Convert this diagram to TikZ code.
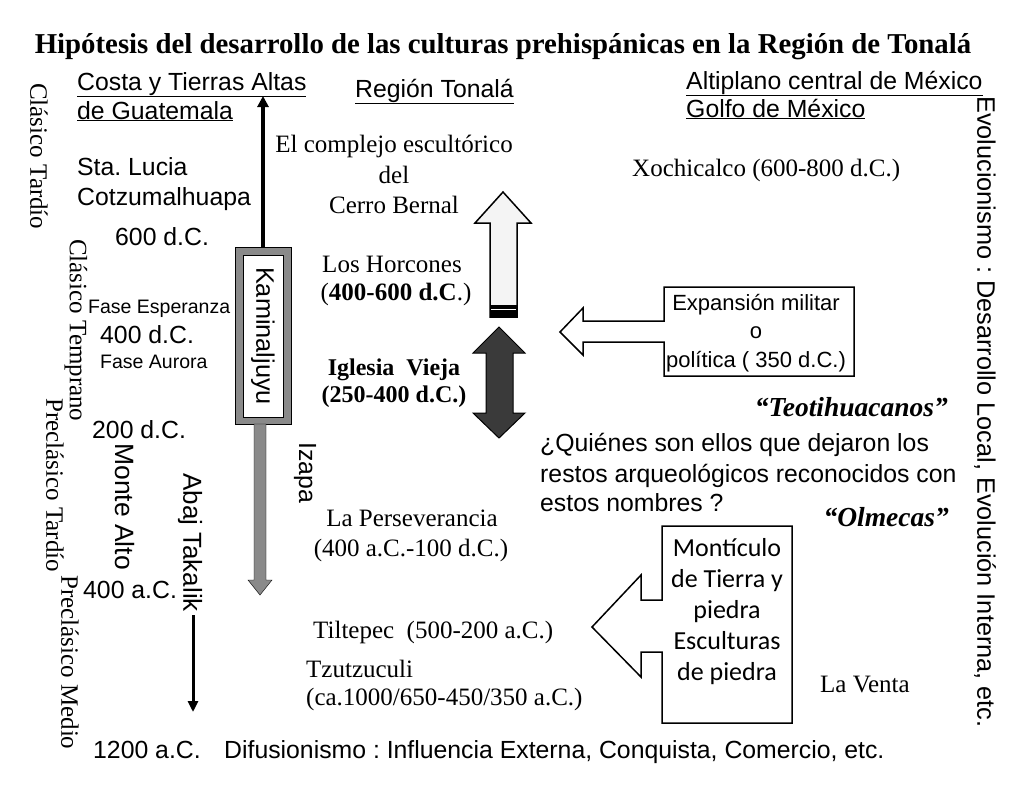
\documentclass[tikz,border=0pt]{standalone}
\usepackage{fontspec}
\setmainfont{Liberation Serif}
\setsansfont{Liberation Sans}
\newfontfamily\calibri{Carlito}
\usetikzlibrary{arrows.meta}
\definecolor{frame}{HTML}{8A8A8A}
\definecolor{darkarrow}{HTML}{3A3A3A}
\definecolor{pale}{HTML}{F4F4F4}
\frenchspacing

\begin{document}
\begin{tikzpicture}[x=1pt,y=-1pt,
  every node/.style={inner sep=0pt},
  serif/.style={font=\fontsize{25}{30}\selectfont},
  bold/.style={font=\bfseries\fontsize{24}{29}\selectfont},
  sans/.style={font=\sffamily\fontsize{24.8}{30}\selectfont},
  small/.style={font=\sffamily\fontsize{19.5}{23}\selectfont},
  boxtext/.style={font=\sffamily\fontsize{22}{28}\selectfont},
  culture/.style={font=\bfseries\itshape\fontsize{27.5}{32}\selectfont,anchor=base east},
  vert/.style={rotate=-90,anchor=west}]
  \useasboundingbox[fill=white] (0,0) rectangle (1024,793);

  % Title
  \node[font=\bfseries\fontsize{28.8}{34}\selectfont,anchor=base] (title) at (503,53)
    {Hipótesis del desarrollo de las culturas prehispánicas en la Región de Tonalá};

  % Column headers
  \node[sans,anchor=base west] (costa) at (77,90) {\underline{Costa y Tierras Altas}};
  \node[sans,anchor=base west] (guate) at (77,119) {\underline{de Guatemala}};
  \node[sans,anchor=base west] (tonala) at (355,97) {\underline{Región Tonalá}};
  \node[sans,anchor=base west] (altip) at (686,89) {\underline{Altiplano central de México}};
  \node[sans,anchor=base west] (golfo) at (686,117) {\underline{Golfo de México}};

  % Periods
  \node[serif,vert] (ctardio) at (39,83) {Clásico Tardío};
  \node[serif,vert] (ctemp) at (76,239) {Clásico Temprano};
  \node[serif,vert] (ptardio) at (55,398) {Preclásico Tardío};
  \node[serif,vert] (pmedio) at (70,575) {Preclásico Medio};

  % Guatemala side
  \node[sans,anchor=base west] (lucia) at (77,175) {Sta. Lucia};
  \node[sans,anchor=base west] (cotz) at (77,205) {Cotzumalhuapa};
  \node[sans,anchor=base west] (d600) at (115,245) {600 d.C.};
  \node[small,anchor=base west] (esper) at (88,313) {Fase Esperanza};
  \node[sans,anchor=base west] (d400) at (100,343) {400 d.C.};
  \node[small,anchor=base west] (aurora) at (100,368) {Fase Aurora};
  \node[sans,anchor=base west] (d200) at (92,438) {200 d.C.};
  \node[sans,font=\sffamily\fontsize{26.5}{31}\selectfont,vert] (monte) at (125,443) {Monte Alto};
  \node[sans,anchor=base west] (a400) at (83,598) {400 a.C.};
  \node[sans,font=\sffamily\fontsize{26}{30}\selectfont,vert] (abaj) at (190,473) {Abaj Takalik};
  \node[sans,anchor=base west] (a1200) at (93,758) {1200 a.C.};
  \node[sans,vert] (izapa) at (305,442) {Izapa};

  % Kaminaljuyu
  \draw[fill=frame] (235,247) rectangle (291,424);
  \node[sans,font=\sffamily\fontsize{25.3}{30}\selectfont,rotate=-90,draw,fill=white,minimum width=162pt,minimum height=40pt] (kamin) at (263,336) {Kaminaljuyu};
  \coordinate (ktop) at (263,247);
  \coordinate (kup) at (263,96);
  \draw[line width=4pt,-{Triangle[length=11pt,width=11pt]}] (ktop) -- (kup);
  \draw[fill=frame] (254,424) -- (254,580) -- (248,580) -- (260,595) -- (272,580) -- (266,580) -- (266,424) -- cycle;
  \coordinate (abtop) at (193,615);
  \coordinate (abend) at (193,712);
  \draw[line width=3pt,-{Triangle[length=11pt,width=10pt]}] (abtop) -- (abend);

  % Region Tonala
  \node[serif,anchor=base] (cerro1) at (394,152) {El complejo escultórico};
  \node[serif,anchor=base] (cerro2) at (394,183) {del};
  \node[serif,anchor=base] (cerro3) at (394,213) {Cerro Bernal};
  \node[serif,anchor=base] (horc1) at (392,272) {Los Horcones};
  \node[serif,anchor=base] (horc2) at (396,300) {(\textbf{400-600 d.C}.)};
  \node[bold,anchor=base] (igle1) at (394,375) {Iglesia\ \ Vieja};
  \node[bold,anchor=base] (igle2) at (394,402) {(250-400 d.C.)};
  \node[serif,anchor=base] (pers1) at (412,526) {La Perseverancia};
  \node[serif,anchor=base] (pers2) at (411,556) {(400 a.C.-100 d.C.)};
  \node[serif,anchor=base west] (tilte) at (313,638) {Tiltepec\ \ (500-200 a.C.)};
  \node[serif,anchor=base west] (tzu1) at (306,677) {Tzutzuculi};
  \node[serif,anchor=base west] (tzu2) at (306,705) {(ca.1000/650-450/350 a.C.)};

  % Hollow arrow up
  \draw[line width=1.5pt,fill=pale] (503,192) -- (531,223) -- (517,223) -- (517,317)
    -- (490,317) -- (490,223) -- (475,223) -- cycle;
  \fill (490,305) rectangle (517,317);
  \draw[white,line width=1.2pt] (491,309.5) -- (516,309.5);

  % Double arrow
  \draw[line width=1pt,fill=darkarrow] (499,327) -- (525,353) -- (513,353) -- (513,413)
    -- (525,413) -- (499,438) -- (473,413) -- (486,413) -- (486,353) -- (473,353) -- cycle;

  % Mexico side
  \node[serif,anchor=base west] (xochi) at (632,176) {Xochicalco (600-800 d.C.)};
  \draw[line width=1.5pt] (664,287) -- (854,287) -- (854,376) -- (664,376) -- (664,342)
    -- (583,342) -- (583,355) -- (560,332) -- (583,308) -- (583,321) -- (664,321) -- cycle;
  \node[boxtext,anchor=base] (exp1) at (756,310) {Expansión militar};
  \node[boxtext,anchor=base] (exp2) at (756,338) {o};
  \node[boxtext,anchor=base] (exp3) at (756,367) {política ( 350 d.C.)};
  \node[culture] (teoti) at (948,416) {“Teotihuacanos”};
  \node[sans,anchor=base west] (quien1) at (540,451) {¿Quiénes son ellos que dejaron los};
  \node[sans,anchor=base west] (quien2) at (540,482) {restos arqueológicos reconocidos con};
  \node[sans,anchor=base west] (quien3) at (540,511) {estos nombres ?};
  \node[culture] (olme) at (949,526) {“Olmecas”};
  \draw[line width=1.5pt] (662,526) -- (792,526) -- (792,723) -- (662,723) -- (662,652)
    -- (641,652) -- (641,677) -- (592,627) -- (641,575) -- (641,600) -- (662,600) -- cycle;
  \node[font=\calibri\fontsize{26}{31}\selectfont,align=center,anchor=center] (monti) at (727,612)
    {Montículo\\de Tierra y\\piedra\\Esculturas\\de piedra};
  \node[serif,anchor=base west] (venta) at (820,692) {La Venta};

  % Theories
  \node[sans,anchor=base west] (difus) at (224,758) {Difusionismo : Influencia Externa, Conquista, Comercio, etc.};
  \node[sans,font=\sffamily\fontsize{25.3}{30}\selectfont,vert] (evol) at (985,96) {Evolucionismo : Desarrollo Local, Evolución Interna, etc.};
\end{tikzpicture}
\end{document}
